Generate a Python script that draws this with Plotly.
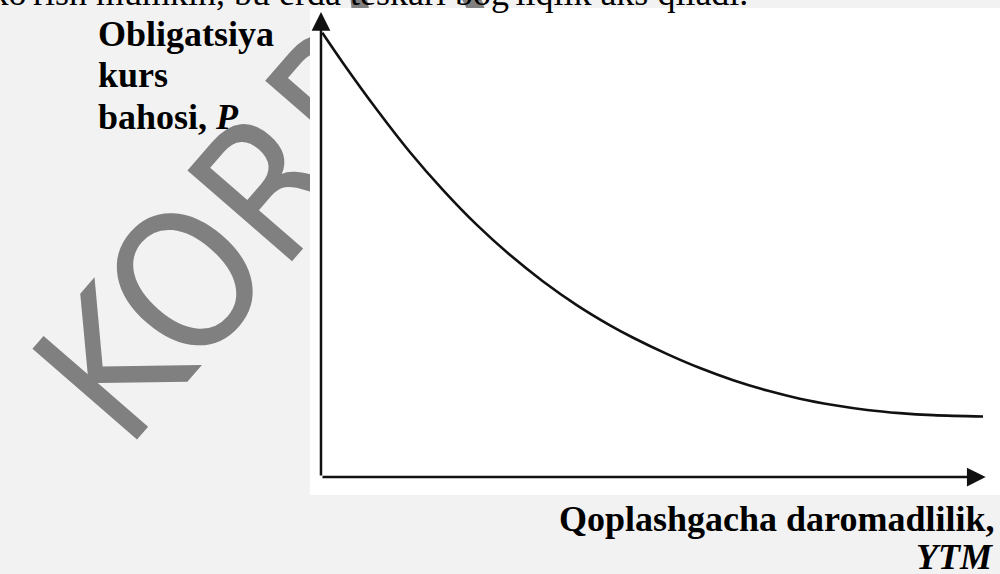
import plotly.graph_objects as go

# bond price vs yield to maturity
ytm = [0.02, 0.33, 0.84, 1.34, 1.83, 2.34, 2.84, 3.33, 3.84, 4.34, 4.68,
       5.20, 5.69, 6.19, 6.70, 7.19, 7.69, 8.20, 8.69, 9.19, 9.94]
price = [98.7, 92.0, 81.6, 72.1, 63.8, 56.0, 49.3, 43.5, 38.2, 33.7, 31.0,
         27.3, 24.2, 21.5, 19.2, 17.4, 16.0, 14.9, 14.2, 13.75, 13.45]

y_label = ["Obligatsiya", "kurs", "bahosi, <i>P</i>"]
x_label = ["Qoplashgacha daromadlilik,", "<i>YTM</i>"]
top_text = "bog'liqligini ko'rish mumkin, bu erda teskari bog'liqlik aks qiladi."
watermark = "KORPORATIV"

X_RANGE = [-0.165, 10.195]
Y_RANGE = [-4.0, 104.2]
X_END = 9.98
Y_END = 103.3

BG = "#f2f2f2"
INK = "#111111"
SERIF = "Liberation Serif, Times New Roman, serif"
WM_FONT = "Liberation Sans Narrow, DejaVu Sans Condensed, Open Sans, sans-serif"


def px(v):
    # page pixel -> paper x
    return (v - 310) / 690


def py(v):
    # page pixel -> paper y
    return (495 - v) / 487


fig = go.Figure()
fig.add_trace(go.Scatter(
    x=ytm, y=price, mode="lines", line_shape="spline",
    line=dict(color=INK, width=2.6), hoverinfo="skip", showlegend=False
))

shapes = [
    # watermark behind the white panel
    dict(type="line", xref="paper", yref="paper", layer="below",
         x0=px(66), y0=py(400), x1=px(656), y1=py(-280),
         line=dict(color="rgba(0,0,0,0)", width=1),
         label=dict(text=watermark, textposition="start", xanchor="left",
                    yanchor="middle", textangle=-49, padding=0,
                    font=dict(family=WM_FONT, size=190, color="#808080"))),
    # white panel
    dict(type="rect", xref="x", yref="y", layer="below",
         x0=X_RANGE[0], x1=X_RANGE[1], y0=Y_RANGE[0], y1=Y_RANGE[1],
         fillcolor="white", line=dict(width=0)),
]

annotations = []
for x_, y_ in [(0, Y_END), (X_END, 0)]:
    annotations.append(dict(
        x=x_, y=y_, ax=0, ay=0, xref="x", yref="y", axref="x", ayref="y",
        text="", showarrow=True, arrowhead=2, arrowsize=1.5, arrowwidth=2.5,
        arrowcolor=INK, standoff=0, startstandoff=0
    ))

for i, t in enumerate(y_label):
    annotations.append(dict(
        x=px(96), y=py(34 + 41.5 * i), xref="paper", yref="paper",
        xanchor="left", yanchor="middle", showarrow=False,
        text="<b>" + t + "</b>", font=dict(family=SERIF, size=36, color="black")
    ))

for i, t in enumerate(x_label):
    annotations.append(dict(
        x=px(996), y=py(519 + 38 * i), xref="paper", yref="paper",
        xanchor="right", yanchor="middle", showarrow=False,
        text="<b>" + t + "</b>", font=dict(family=SERIF, size=36, color="black")
    ))

annotations.append(dict(
    x=px(750), y=py(-7), xref="paper", yref="paper",
    xanchor="right", yanchor="middle", showarrow=False,
    text=top_text, font=dict(family=SERIF, size=36, color="black")
))

fig.update_layout(
    width=1000, height=574,
    margin=dict(l=310, r=0, t=8, b=79),
    paper_bgcolor=BG,
    plot_bgcolor="white",
    showlegend=False,
    xaxis=dict(range=X_RANGE, visible=False, fixedrange=True),
    yaxis=dict(range=Y_RANGE, visible=False, fixedrange=True),
    shapes=shapes,
    annotations=annotations,
)

fig.write_html("out.html", config={"displayModeBar": False},
               post_script="document.body.style.margin = '0';")
